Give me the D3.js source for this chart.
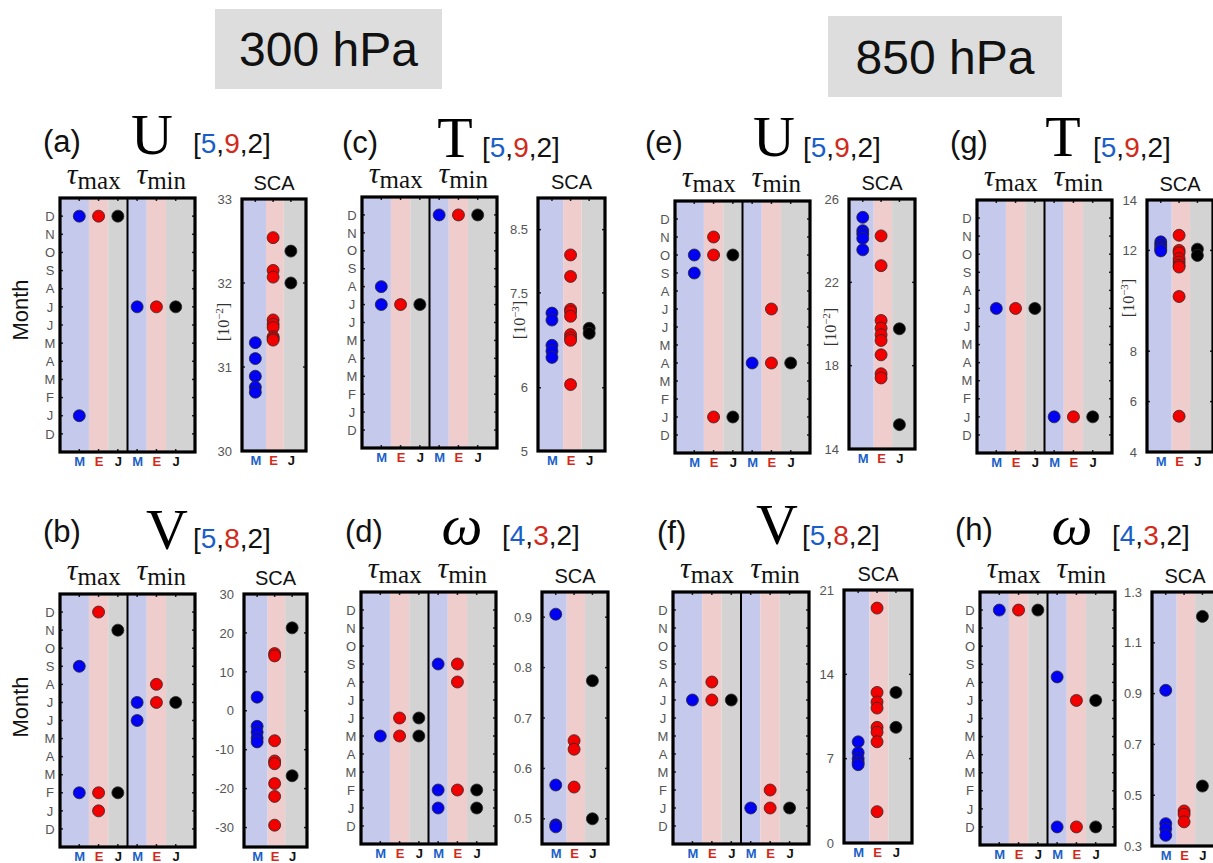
<!DOCTYPE html>
<html lang="en">
<head>
  <meta charset="UTF-8">
  <title>Month / SCA panels</title>
  <script src="https://d3js.org/d3.v7.min.js"></script>
  <style>
    body { margin: 0; background: #fff; }
    svg { font-family: "Liberation Sans", Arial, sans-serif; }
    .serif { font-family: "Liberation Serif", "DejaVu Serif", serif; }
    .tick text { fill: #555; font-size: 13px; }
  </style>
</head>
<body>
  <div id="chart"></div>
  <script>
    // categories
    const cols = ["M", "E", "J"];
    const monthLabels = ["D", "J", "F", "M", "A", "M", "J", "J", "A", "S", "O", "N", "D"];

    // panel (a) U 300 hPa
    const aTauMax = { M: [12, 1], E: [12], J: [12] };
    const aTauMin = { M: [7], E: [7], J: [7] };
    const aSCA = { M: [31.29, 31.10, 30.89, 30.76, 30.70],
                   E: [32.54, 32.15, 32.07, 31.56, 31.51, 31.47, 31.36, 31.34, 31.32],
                   J: [32.38, 32.0] };
    // panel (b) V 300 hPa
    const bTauMax = { M: [9, 2], E: [12, 2, 1], J: [11, 2] };
    const bTauMin = { M: [7, 6], E: [8, 7], J: [7] };
    const bSCA = { M: [3.5, -4, -5.5, -7, -8],
                   E: [14.7, 14.1, -7.7, -12.9, -13.6, -18.7, -22, -29.4],
                   J: [21.3, -16.7] };
    // panel (c) T 300 hPa
    const cTauMax = { M: [8, 7], E: [7], J: [7] };
    const cTauMin = { M: [12], E: [12], J: [12] };
    const cSCA = { M: [7.18, 7.07, 6.67, 6.58, 6.48],
                   E: [8.10, 7.76, 7.24, 7.20, 7.13, 6.84, 6.79, 6.75, 6.05],
                   J: [6.94, 6.86] };
    // panel (d) omega 300 hPa
    const dTauMax = { M: [5], E: [6, 5], J: [6, 5] };
    const dTauMin = { M: [9, 2, 1], E: [9, 8, 2], J: [2, 1] };
    const dSCA = { M: [0.906, 0.567, 0.488, 0.484],
                   E: [0.655, 0.638, 0.563],
                   J: [0.774, 0.50] };
    // panel (e) U 850 hPa
    const eTauMax = { M: [10, 9], E: [11, 10, 1], J: [10, 1] };
    const eTauMin = { M: [4], E: [7, 4], J: [4] };
    const eSCA = { M: [25.12, 24.48, 24.32, 24.11, 23.56],
                   E: [24.23, 22.8, 20.17, 19.8, 19.48, 19.21, 18.52, 17.61, 17.41],
                   J: [19.77, 15.17] };
    // panel (f) V 850 hPa
    const fTauMax = { M: [7], E: [8, 7], J: [7] };
    const fTauMin = { M: [1], E: [2, 1], J: [1] };
    const fSCA = { M: [8.4, 7.5, 7.0, 6.7, 6.5],
                   E: [19.5, 12.5, 11.7, 11.2, 9.6, 9.2, 8.4, 2.6],
                   J: [12.5, 9.6] };
    // panel (g) T 850 hPa
    const gTauMax = { M: [7], E: [7], J: [7] };
    const gTauMin = { M: [1], E: [1], J: [1] };
    const gSCA = { M: [12.34, 12.24, 12.14, 12.05, 11.98],
                   E: [12.6, 12.0, 11.9, 11.67, 11.54, 11.41, 11.34, 10.17, 5.42],
                   J: [12.05, 11.8] };
    // panel (h) omega 850 hPa
    const hTauMax = { M: [12], E: [12], J: [12] };
    const hTauMin = { M: [8.3, 0], E: [7, 0], J: [7, 0] };
    const hSCA = { M: [0.913, 0.388, 0.368, 0.342],
                   E: [0.438, 0.425, 0.395],
                   J: [1.204, 0.536] };

    // SCA axis domains / ticks
    const scaDomains = { a: [30, 33], b: [-35, 30], c: [5, 9], d: [0.45, 0.95],
                         e: [14, 26], f: [0, 21], g: [4, 14], h: [0.3, 1.3] };
    const scaTicks = { a: [30, 31, 32, 33], b: [-30, -20, -10, 0, 10, 20, 30],
                       c: [5, 6, 7.5, 8.5], d: [0.5, 0.6, 0.7, 0.8, 0.9],
                       e: [14, 18, 22, 26], f: [0, 7, 14, 21],
                       g: [4, 6, 8, 12, 14], h: [0.3, 0.5, 0.7, 0.9, 1.1, 1.3] };

    const panels = [
      { id: "a", letter: "U", counts: [5, 9, 2], unit: "\u22122", tauMax: aTauMax, tauMin: aTauMin, sca: aSCA },
      { id: "b", letter: "V", counts: [5, 8, 2], unit: null, tauMax: bTauMax, tauMin: bTauMin, sca: bSCA },
      { id: "c", letter: "T", counts: [5, 9, 2], unit: "\u22123", tauMax: cTauMax, tauMin: cTauMin, sca: cSCA },
      { id: "d", letter: "\u03c9", counts: [4, 3, 2], unit: null, tauMax: dTauMax, tauMin: dTauMin, sca: dSCA },
      { id: "e", letter: "U", counts: [5, 9, 2], unit: "\u22122", tauMax: eTauMax, tauMin: eTauMin, sca: eSCA },
      { id: "f", letter: "V", counts: [5, 8, 2], unit: null, tauMax: fTauMax, tauMin: fTauMin, sca: fSCA },
      { id: "g", letter: "T", counts: [5, 9, 2], unit: "\u22123", tauMax: gTauMax, tauMin: gTauMin, sca: gSCA },
      { id: "h", letter: "\u03c9", counts: [4, 3, 2], unit: null, tauMax: hTauMax, tauMin: hTauMin, sca: hSCA }
    ];

    // layout: month box, sca box [x0,x1,y0,y1], title anchors
    const layout = {
      a: { mb: [60, 195, 198, 452], sb: [242, 306, 199, 451], lab: [43, 152], let: [152, 155], br: [193, 153], unitY: 322 },
      b: { mb: [60, 195, 594, 847], sb: [244, 307, 594, 847], lab: [43, 542], let: [167, 550], br: [193, 548] },
      c: { mb: [362, 497, 197, 448], sb: [538, 605, 198, 451], lab: [342, 153], let: [455, 158], br: [482, 157], unitY: 320 },
      d: { mb: [361, 496, 592, 844], sb: [542, 608, 592, 844], lab: [345, 542], let: [462, 545], br: [502, 545] },
      e: { mb: [675, 810, 201, 453], sb: [849, 915, 199, 449], lab: [645, 153], let: [774, 157], br: [803, 157], unitY: 327 },
      f: { mb: [673, 809, 592, 844], sb: [844, 912, 590, 843], lab: [657, 543], let: [777, 545], br: [802, 545] },
      g: { mb: [977, 1112, 200, 453], sb: [1147, 1213, 200, 452], lab: [950, 153], let: [1063, 157], br: [1093, 157], unitY: 298 },
      h: { mb: [980, 1115, 592, 845], sb: [1152, 1218, 592, 846], lab: [955, 540], let: [1072, 545], br: [1112, 545] }
    };

    const dotFill = { M: "#0000f2", E: "#f20000", J: "#000" };
    const labFill = { M: "#1a5fc8", E: "#d22a1a", J: "#111" };
    const stripeFill = { M: "#c5caed", E: "#f0cdcd", J: "#d3d3d3" };
    const bracketFill = ["#1a5fc8", "#d22a1a", "#111"];

    const width = 1213, height = 863;
    const svg = d3.select("#chart").append("svg")
      .attr("width", width)
      .attr("height", height);

    // pressure headers
    [["300 hPa", 215, 9, 227, 80], ["850 hPa", 828, 16, 234, 81]].forEach(h => {
      svg.append("rect").attr("x", h[1]).attr("y", h[2]).attr("width", h[3]).attr("height", h[4])
        .attr("fill", "#dcdddc");
      svg.append("text").attr("x", h[1] + h[3] / 2).attr("y", h[2] + h[4] / 2 + 17)
        .attr("text-anchor", "middle").attr("font-size", 48).attr("fill", "#111").text(h[0]);
    });

    // "Month" y labels
    [310, 707].forEach(cy => {
      svg.append("text").attr("transform", `translate(28,${cy}) rotate(-90)`)
        .attr("text-anchor", "middle").attr("font-size", 22).attr("fill", "#111").text("Month");
    });

    function dots(g, pts, cx, cy, c) {
      g.selectAll(null).data(pts).join("circle")
        .attr("cx", cx).attr("cy", cy).attr("r", 6)
        .attr("fill", dotFill[c]).attr("stroke", "#2a2a2a").attr("stroke-width", 0.8);
    }

    function drawPanel(p) {
      const L = layout[p.id];
      const g = svg.append("g");

      // month box scales
      const x = d3.scaleLinear().domain([0, 7]).range([L.mb[0], L.mb[1]]);
      const y = d3.scaleLinear().domain([-1, 13]).range([L.mb[3], L.mb[2]]);
      const stripes = [[0, 1.5, "M"], [1.5, 2.5, "E"], [2.5, 3.5, "J"], [3.5, 4.5, "M"], [4.5, 5.5, "E"], [5.5, 7, "J"]];
      g.selectAll(null).data(stripes).join("rect")
        .attr("x", d => x(d[0])).attr("width", d => x(d[1]) - x(d[0]))
        .attr("y", L.mb[2]).attr("height", L.mb[3] - L.mb[2])
        .attr("fill", d => stripeFill[d[2]]);

      // inner ticks
      const months = d3.range(0, 13);
      g.selectAll(null).data(months).join("line")
        .attr("x1", x(0)).attr("x2", x(0) + 3).attr("y1", d => y(d)).attr("y2", d => y(d))
        .attr("stroke", "#222").attr("stroke-width", 1.5);
      g.selectAll(null).data(months).join("line")
        .attr("x1", x(7)).attr("x2", x(7) - 3).attr("y1", d => y(d)).attr("y2", d => y(d))
        .attr("stroke", "#222").attr("stroke-width", 1.5);
      const colPos = d3.range(1, 7);
      g.selectAll(null).data(colPos).join("line")
        .attr("x1", d => x(d)).attr("x2", d => x(d)).attr("y1", y(13)).attr("y2", y(13) + 3)
        .attr("stroke", "#222").attr("stroke-width", 1.5);
      g.selectAll(null).data(colPos).join("line")
        .attr("x1", d => x(d)).attr("x2", d => x(d)).attr("y1", y(-1)).attr("y2", y(-1) - 3)
        .attr("stroke", "#222").attr("stroke-width", 1.5);

      // frame and divider
      g.append("line").attr("x1", x(3.5)).attr("x2", x(3.5)).attr("y1", y(13)).attr("y2", y(-1))
        .attr("stroke", "#000").attr("stroke-width", 2);
      g.append("rect").attr("x", x(0)).attr("y", y(13)).attr("width", x(7) - x(0)).attr("height", y(-1) - y(13))
        .attr("fill", "none").attr("stroke", "#000").attr("stroke-width", 3.2);

      // month axis
      const ma = g.append("g").attr("transform", `translate(${L.mb[0]},0)`)
        .call(d3.axisLeft(y).tickValues(months).tickFormat(i => monthLabels[i]).tickSize(0));
      ma.select(".domain").remove();
      ma.selectAll("text").attr("x", -10).attr("text-anchor", "middle");

      // column axis
      const ca = g.append("g").attr("transform", `translate(0,${L.mb[3]})`)
        .call(d3.axisBottom(x).tickValues(colPos).tickFormat(i => cols[(i - 1) % 3]).tickSize(0).tickPadding(5));
      ca.select(".domain").remove();
      ca.selectAll("text").style("fill", i => labFill[cols[(i - 1) % 3]])
        .attr("font-weight", "bold").style("font-size", "13px");

      // month dots
      cols.forEach((c, i) => {
        dots(g, p.tauMax[c], x(i + 1), d => y(d), c);
        dots(g, p.tauMin[c], x(i + 4), d => y(d), c);
      });

      // SCA box
      const xs = d3.scaleLinear().domain([0.25, 3.85]).range([L.sb[0], L.sb[1]]);
      const ys = d3.scaleLinear().domain(scaDomains[p.id]).range([L.sb[3], L.sb[2]]);
      const sStripes = [[0.25, 1.6, "M"], [1.6, 2.6, "E"], [2.6, 3.85, "J"]];
      g.selectAll(null).data(sStripes).join("rect")
        .attr("x", d => xs(d[0])).attr("width", d => xs(d[1]) - xs(d[0]))
        .attr("y", L.sb[2]).attr("height", L.sb[3] - L.sb[2])
        .attr("fill", d => stripeFill[d[2]]);
      g.selectAll(null).data(scaTicks[p.id]).join("line")
        .attr("x1", L.sb[0]).attr("x2", L.sb[0] + 3).attr("y1", d => ys(d)).attr("y2", d => ys(d))
        .attr("stroke", "#222").attr("stroke-width", 1.5);
      g.selectAll(null).data(scaTicks[p.id]).join("line")
        .attr("x1", L.sb[1]).attr("x2", L.sb[1] - 3).attr("y1", d => ys(d)).attr("y2", d => ys(d))
        .attr("stroke", "#222").attr("stroke-width", 1.5);
      g.selectAll(null).data([1, 2, 3]).join("line")
        .attr("x1", d => xs(d)).attr("x2", d => xs(d)).attr("y1", L.sb[2]).attr("y2", L.sb[2] + 3)
        .attr("stroke", "#222").attr("stroke-width", 1.5);
      g.append("rect").attr("x", L.sb[0]).attr("y", L.sb[2]).attr("width", L.sb[1] - L.sb[0]).attr("height", L.sb[3] - L.sb[2])
        .attr("fill", "none").attr("stroke", "#000").attr("stroke-width", 3.2);

      const sa = g.append("g").attr("transform", `translate(${L.sb[0]},0)`)
        .call(d3.axisLeft(ys).tickValues(scaTicks[p.id]).tickFormat(d => String(d)).tickSize(0).tickPadding(10));
      sa.select(".domain").remove();

      const sca = g.append("g").attr("transform", `translate(0,${L.sb[3]})`)
        .call(d3.axisBottom(xs).tickValues([1, 2, 3]).tickFormat(i => cols[i - 1]).tickSize(0).tickPadding(5));
      sca.select(".domain").remove();
      sca.selectAll("text").style("fill", i => labFill[cols[i - 1]])
        .attr("font-weight", "bold").style("font-size", "13px");

      cols.forEach((c, i) => dots(g, p.sca[c], xs(i + 1), d => ys(d), c));

      // unit label
      if (p.unit) {
        const ut = g.append("text").attr("class", "serif")
          .attr("transform", `translate(${L.sb[0] - 13},${L.unitY}) rotate(-90)`)
          .attr("text-anchor", "middle").attr("font-size", 16).attr("fill", "#333");
        ut.append("tspan").text("[10");
        ut.append("tspan").attr("font-size", 11).attr("dy", -6).text(p.unit);
        ut.append("tspan").attr("dy", 6).text("]");
      }

      // headings
      g.append("text").attr("x", L.lab[0]).attr("y", L.lab[1]).attr("font-size", 31).attr("fill", "#111")
        .text(`(${p.id})`);
      g.append("text").attr("class", "serif").attr("x", L.let[0]).attr("y", L.let[1] - 1)
        .attr("text-anchor", "middle").attr("font-size", 58).attr("fill", "#000")
        .attr("font-style", p.letter === "\u03c9" ? "italic" : "normal").text(p.letter);
      const bt = g.append("text").attr("x", L.br[0]).attr("y", L.br[1]).attr("font-size", 28).attr("fill", "#111");
      bt.append("tspan").text("[");
      p.counts.forEach((n, i) => {
        bt.append("tspan").attr("fill", bracketFill[i]).text(n);
        if (i < 2) bt.append("tspan").text(",");
      });
      bt.append("tspan").text("]");

      [[1.75, "max"], [5.25, "min"]].forEach(t => {
        const tt = g.append("text").attr("class", "serif").attr("x", x(t[0])).attr("y", L.mb[2] - 14)
          .attr("text-anchor", "middle").attr("fill", "#111");
        tt.append("tspan").attr("font-size", 30).attr("font-style", "italic").text("\u03c4");
        tt.append("tspan").attr("font-size", 25).attr("dy", 5).text(t[1]);
      });
      g.append("text").attr("x", (L.sb[0] + L.sb[1]) / 2).attr("y", L.sb[2] - 9)
        .attr("text-anchor", "middle").attr("font-size", 20).attr("fill", "#111").text("SCA");
    }

    panels.forEach(drawPanel);
  </script>
</body>
</html>
